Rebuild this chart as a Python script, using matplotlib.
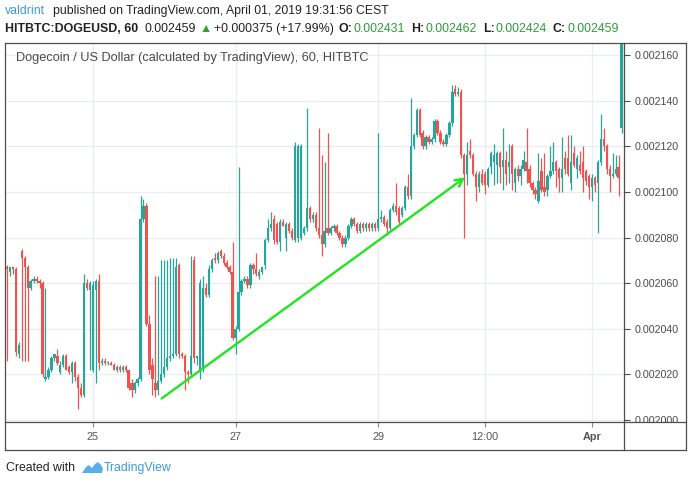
import matplotlib
matplotlib.use("Agg")
import matplotlib.pyplot as plt
from matplotlib.lines import Line2D
from matplotlib.patches import Rectangle, Polygon
from matplotlib.transforms import blended_transform_factory

W, H = 694, 486

# hourly candles, prices in millionths of USD (2100 -> 0.002100)
# first candle is 29 hours before Mar 25 00:00
first_hour = -29
opens = [
    2067, 2065, 2067, 2066, 2029, 2074, 2071, 2067, 2058, 2061,
    2062, 2061, 2060, 2018, 2019, 2022, 2027, 2028, 2021, 2024,
    2028, 2023, 2021, 2025, 2019, 2014, 2011, 2060, 2057, 2022,
    2057, 2061, 2025, 2026, 2025, 2025, 2024, 2022, 2023, 2022,
    2023, 2022, 2016, 2013, 2016, 2018, 2088, 2094, 2042, 2024,
    2016, 2013, 2017, 2020, 2023, 2027, 2028, 2029, 2068, 2029,
    2028, 2021, 2020, 2070, 2027, 2021, 2022, 2058, 2055, 2066,
    2071, 2070, 2074, 2072, 2069, 2067, 2065, 2036, 2040, 2056,
    2061, 2062, 2059, 2068, 2066, 2063, 2065, 2068, 2079, 2084,
    2088, 2086, 2078, 2087, 2080, 2086, 2083, 2079, 2080, 2080,
    2082, 2084, 2093, 2088, 2090, 2084, 2081, 2077, 2084, 2082,
    2084, 2085, 2082, 2080, 2077, 2080, 2085, 2088, 2086, 2083,
    2086, 2084, 2086, 2084, 2086, 2084, 2088, 2089, 2087, 2084,
    2092, 2094, 2093, 2090, 2093, 2102, 2098, 2120, 2125, 2136,
    2126, 2120, 2124, 2122, 2123, 2131, 2126, 2122, 2121, 2125,
    2130, 2145, 2143, 2144, 2116, 2108, 2118, 2116, 2108, 2102,
    2108, 2108, 2103, 2111, 2113, 2112, 2117, 2111, 2114, 2111,
    2120, 2104, 2110, 2107, 2110, 2113, 2110, 2104, 2101, 2096,
    2109, 2102, 2101, 2107, 2109, 2113, 2110, 2106, 2115, 2115,
    2104, 2117, 2110, 2112, 2113, 2109, 2107, 2102, 2106, 2104,
    2113, 2123, 2120, 2110, 2107, 2108, 2111, 2128,
]
highs = [
    2068, 2067, 2067, 2067, 2034, 2075, 2072, 2068, 2062, 2063,
    2063, 2062, 2061, 2058, 2023, 2028, 2029, 2031, 2026, 2029,
    2029, 2024, 2026, 2026, 2020, 2016, 2064, 2062, 2061, 2061,
    2062, 2064, 2027, 2027, 2026, 2026, 2025, 2024, 2024, 2024,
    2024, 2022, 2018, 2017, 2019, 2098, 2097, 2095, 2046, 2027,
    2063, 2063, 2070, 2070, 2070, 2071, 2071, 2071, 2069, 2030,
    2029, 2022, 2072, 2072, 2028, 2062, 2063, 2060, 2068, 2071,
    2073, 2074, 2075, 2073, 2070, 2068, 2078, 2041, 2111, 2062,
    2063, 2063, 2069, 2069, 2073, 2066, 2067, 2080, 2088, 2091,
    2090, 2087, 2088, 2088, 2087, 2087, 2084, 2122, 2121, 2121,
    2085, 2137, 2094, 2091, 2091, 2128, 2116, 2113, 2126, 2085,
    2086, 2086, 2083, 2081, 2081, 2086, 2089, 2089, 2087, 2087,
    2087, 2087, 2087, 2087, 2087, 2126, 2092, 2090, 2088, 2093,
    2095, 2104, 2094, 2094, 2103, 2108, 2141, 2126, 2137, 2137,
    2127, 2125, 2125, 2124, 2132, 2132, 2127, 2123, 2126, 2131,
    2147, 2147, 2146, 2145, 2117, 2122, 2123, 2117, 2109, 2109,
    2110, 2109, 2111, 2118, 2121, 2118, 2118, 2128, 2118, 2121,
    2121, 2111, 2112, 2112, 2118, 2128, 2112, 2105, 2102, 2117,
    2115, 2117, 2108, 2120, 2122, 2114, 2111, 2124, 2118, 2125,
    2125, 2120, 2116, 2118, 2120, 2110, 2108, 2108, 2107, 2114,
    2134, 2128, 2121, 2112, 2117, 2116, 2116, 2300,
]
lows = [
    2026, 2063, 2064, 2028, 2027, 2026, 2026, 2026, 2057, 2060,
    2060, 2058, 2019, 2017, 2018, 2021, 2026, 2024, 2020, 2023,
    2022, 2020, 2016, 2017, 2005, 2010, 2010, 2057, 2022, 2021,
    2016, 2022, 2024, 2024, 2024, 2024, 2022, 2021, 2021, 2021,
    2021, 2013, 2010, 2012, 2015, 2017, 2087, 2041, 2020, 2011,
    2010, 2011, 2016, 2019, 2022, 2026, 2027, 2028, 2027, 2027,
    2013, 2016, 2019, 2025, 2024, 2018, 2021, 2054, 2054, 2065,
    2069, 2069, 2071, 2068, 2066, 2064, 2035, 2029, 2039, 2055,
    2060, 2058, 2058, 2064, 2063, 2062, 2064, 2066, 2078, 2083,
    2077, 2077, 2074, 2085, 2074, 2082, 2079, 2078, 2078, 2079,
    2081, 2083, 2087, 2087, 2083, 2080, 2072, 2076, 2081, 2081,
    2083, 2081, 2079, 2076, 2076, 2079, 2084, 2085, 2082, 2082,
    2083, 2083, 2083, 2083, 2083, 2083, 2087, 2085, 2081, 2083,
    2091, 2090, 2086, 2089, 2092, 2097, 2097, 2119, 2124, 2124,
    2119, 2119, 2121, 2121, 2122, 2125, 2121, 2120, 2120, 2124,
    2129, 2142, 2142, 2115, 2080, 2103, 2115, 2107, 2096, 2100,
    2103, 2099, 2102, 2108, 2103, 2104, 2104, 2101, 2103, 2104,
    2101, 2100, 2105, 2103, 2109, 2104, 2102, 2099, 2097, 2095,
    2100, 2098, 2098, 2106, 2108, 2102, 2100, 2100, 2108, 2107,
    2101, 2111, 2106, 2108, 2100, 2103, 2097, 2096, 2100, 2082,
    2112, 2118, 2108, 2100, 2106, 2107, 2098, 2126,
]
closes = [
    2066, 2067, 2066, 2030, 2033, 2071, 2067, 2058, 2061, 2062,
    2061, 2060, 2020, 2019, 2022, 2027, 2029, 2025, 2024, 2028,
    2022, 2021, 2025, 2019, 2014, 2011, 2060, 2058, 2060, 2059,
    2061, 2025, 2026, 2025, 2025, 2024, 2022, 2023, 2022, 2023,
    2022, 2014, 2013, 2016, 2018, 2088, 2094, 2042, 2022, 2018,
    2013, 2017, 2020, 2023, 2027, 2028, 2029, 2067, 2029, 2028,
    2021, 2020, 2028, 2027, 2028, 2060, 2058, 2055, 2066, 2070,
    2070, 2073, 2072, 2069, 2067, 2065, 2036, 2040, 2056, 2061,
    2062, 2059, 2068, 2066, 2064, 2065, 2067, 2079, 2084, 2086,
    2079, 2078, 2087, 2085, 2086, 2083, 2080, 2120, 2120, 2120,
    2084, 2093, 2088, 2090, 2084, 2081, 2077, 2083, 2082, 2084,
    2085, 2082, 2080, 2077, 2080, 2085, 2088, 2086, 2083, 2086,
    2084, 2086, 2084, 2086, 2084, 2088, 2089, 2086, 2084, 2092,
    2094, 2091, 2087, 2093, 2102, 2098, 2120, 2125, 2136, 2125,
    2120, 2124, 2122, 2123, 2131, 2126, 2122, 2121, 2125, 2130,
    2144, 2143, 2144, 2116, 2108, 2116, 2116, 2108, 2102, 2108,
    2104, 2103, 2110, 2117, 2116, 2117, 2111, 2114, 2108, 2113,
    2108, 2110, 2107, 2110, 2114, 2109, 2104, 2101, 2099, 2105,
    2101, 2100, 2107, 2109, 2113, 2109, 2106, 2110, 2110, 2108,
    2113, 2112, 2115, 2109, 2106, 2105, 2102, 2106, 2103, 2113,
    2123, 2120, 2110, 2107, 2108, 2110, 2106, 2300,
]

# x axis: hours from Mar 25 00:00
date_ticks = [0, 48, 96, 132, 168]
date_labels = ["25", "27", "29", "12:00", "Apr"]
price_ticks = [2000, 2020, 2040, 2060, 2080, 2100, 2120, 2140, 2160]

# hand drawn trend arrow (hour, price)
arrow_from = (23.1, 2009.4)
arrow_to = (125.3, 2106.4)

UP = "#26a69a"
DOWN = "#ef5350"
TXT = "#4a4a4a"
FRAME = "#4d4d4d"
GREEN_TXT = "#2e9e3a"
FONT = ["Liberation Sans", "DejaVu Sans"]


def fx(x):
    return x / W


def fy(y):
    return 1 - y / H


fig = plt.figure(figsize=(W / 100, H / 100), dpi=100)
fig.patch.set_facecolor("white")

ax = fig.add_axes([fx(5), fy(422), (624 - 5) / W, (422 - 43) / H])
ax.set_xlim(-29.63, 178.8)
ax.set_ylim(1999.1, 2165.3)
for s in ax.spines.values():
    s.set_visible(False)

# grid
ax.set_yticks(price_ticks)
ax.set_xticks(date_ticks)
ax.grid(True, color="#e8eef3", lw=0.9)
ax.set_axisbelow(True)

# candles
hours = [first_hour + i for i in range(len(opens))]
for t, o, hi, lo, c in zip(hours, opens, highs, lows, closes):
    col = UP if c >= o else DOWN
    ax.vlines(t, min(lo, o, c), max(hi, o, c), colors=col, lw=0.9, zorder=3)
    bottom = min(o, c)
    height = max(abs(c - o), 0.5)
    ax.bar(t, height, bottom=bottom, width=0.78, color=col, lw=0, zorder=3)

ax.annotate("", xy=arrow_to, xytext=arrow_from,
            arrowprops=dict(arrowstyle="->", color="#1fe61f", lw=1.7,
                            mutation_scale=14, shrinkA=0, shrinkB=0),
            zorder=4)

# price axis on the right
ax.yaxis.tick_right()
ax.set_yticklabels([f"{v / 1e6:.6f}" for v in price_ticks])
ax.tick_params(axis="y", direction="out", length=4, pad=3.5, width=0.8,
               colors=TXT, labelsize=7.7)
for lab in ax.get_yticklabels():
    lab.set_fontfamily(FONT)

# date axis
ax.set_xticklabels([])
ax.tick_params(axis="x", direction="out", length=3.5, width=0.8, colors="#888888")
tr = blended_transform_factory(ax.transData, fig.transFigure)
for t, lab in zip(date_ticks, date_labels):
    ax.text(t, fy(437), lab, transform=tr, ha="center", va="center",
            fontsize=7.8, color="#555555", family=FONT,
            fontweight="bold" if lab == "Apr" else "normal")

# cover the cut-off bottom price label, then the frame
fig.add_artist(Rectangle((fx(625), fy(449)), fx(60), (449 - 422.6) / H,
                         transform=fig.transFigure, color="white", zorder=5))
for xs, ys in [((5, 686), (43, 43)), ((5, 686), (450, 450)),
               ((5, 5), (43, 450)), ((686, 686), (43, 450)),
               ((624, 624), (43, 450)), ((5, 686), (422, 422))]:
    fig.add_artist(Line2D([fx(x) for x in xs], [fy(y) for y in ys],
                          color=FRAME, lw=0.9, zorder=6))

# chart title inside the pane
fig.text(fx(16), fy(58), "Dogecoin / US Dollar (calculated by TradingView), 60, HITBTC",
         fontsize=9.2, color=TXT, family=FONT, va="center")

# header
fig.text(fx(5), fy(11), "valdrint", fontsize=8.8, color="#3a9ad9", family=FONT, va="center")
fig.text(fx(53), fy(11), "published on TradingView.com, April 01, 2019 19:31:56 CEST",
         fontsize=8.8, color="#222222", family=FONT, va="center")

# second header line, pieces chained one after another (text, weight, colour, gap after)
header2 = [
    ("HITBTC:DOGEUSD, 60", "bold", "#222222", 6),
    ("0.002459", "normal", "#222222", 4),
    ("\u25b2", "normal", "#2aa52a", 2),
    ("+0.000375 (+17.99%)", "normal", "#222222", 5),
    ("O:", "bold", "#222222", 1),
    ("0.002431", "normal", GREEN_TXT, 6),
    ("H:", "bold", "#222222", 1),
    ("0.002462", "normal", GREEN_TXT, 6),
    ("L:", "bold", "#222222", 1),
    ("0.002424", "normal", GREEN_TXT, 6),
    ("C:", "bold", "#222222", 1),
    ("0.002459", "normal", GREEN_TXT, 0),
]
renderer = fig.canvas.get_renderer()
xpos = 5
for s, wgt, col, gap in header2:
    t = fig.text(fx(xpos), fy(29), s, fontsize=8.9, fontweight=wgt, color=col,
                 family=FONT, va="center")
    xpos += t.get_window_extent(renderer).width + gap

# footer
fig.text(fx(6), fy(468), "Created with", fontsize=8.8, color="#222222",
         family=FONT, va="center")
logo = [(82, 473), (86, 467), (89, 465), (92, 468), (95, 464), (98, 462),
        (101, 465), (103, 469), (102, 473)]
fig.add_artist(Polygon([(fx(x), fy(y)) for x, y in logo], closed=True,
                       transform=fig.transFigure, color="#5aaee6", lw=0))
fig.text(fx(104), fy(468), "TradingView", fontsize=8.8, color="#3a9ad9",
         family=FONT, va="center")

fig.savefig("out.png", dpi=100, facecolor="white")
